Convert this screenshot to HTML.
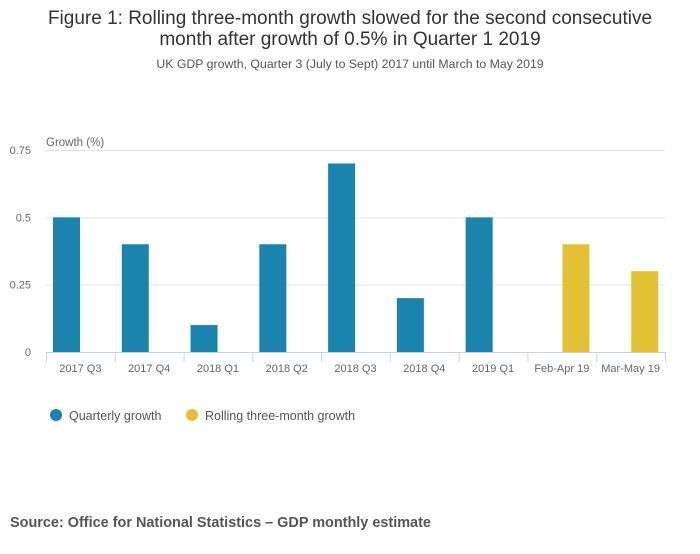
<!DOCTYPE html>
<html><head><meta charset="utf-8">
<style>
body{margin:0;background:#fff;width:700px;height:549px;overflow:hidden;font-family:"Liberation Sans",sans-serif;}
svg text{font-family:"Liberation Sans",sans-serif;}
</style></head>
<body>
<svg id="chart" width="700" height="549" viewBox="0 0 700 549">
<text x="350" y="24" text-anchor="middle" font-size="19" fill="#333">Figure 1: Rolling three-month growth slowed for the second consecutive</text>
<text x="350" y="45" text-anchor="middle" font-size="19" fill="#333">month after growth of 0.5% in Quarter 1 2019</text>
<text x="350" y="68" text-anchor="middle" font-size="12.3" fill="#555">UK GDP growth, Quarter 3 (July to Sept) 2017 until March to May 2019</text>
<text x="46" y="146" font-size="11.5" fill="#666">Growth (%)</text>
<g id="grid"></g><g id="bars"></g><g id="xaxis"></g>
<g>
<circle cx="56" cy="415" r="6" fill="#1a84ae"/>
<text x="69" y="420" font-size="12.5" fill="#555">Quarterly growth</text>
<circle cx="192" cy="415" r="6" fill="#e2c233"/>
<text x="205" y="420" font-size="12.5" fill="#555">Rolling three-month growth</text>
</g>
<text x="10" y="527" font-size="14.45" font-weight="bold" fill="#555">Source: Office for National Statistics – GDP monthly estimate</text>
</svg>
<script>
const categories=["2017 Q3","2017 Q4","2018 Q1","2018 Q2","2018 Q3","2018 Q4","2019 Q1","Feb-Apr 19","Mar-May 19"];
const quarterly=[0.5,0.4,0.1,0.4,0.7,0.2,0.5,null,null];
const rolling=[null,null,null,null,null,null,null,0.4,0.3];
const yTicks=[0,0.25,0.5,0.75];
const yTickLabels=["0","0.25","0.5","0.75"];
const NS="http://www.w3.org/2000/svg";
const x0=46,x1=665,yZero=352,yTop=150,yMax=0.75;
const band=(x1-x0)/categories.length;
function y(v){return yZero-(v/yMax)*(yZero-yTop);}
function bx(i){return x0+i*band;}
function mk(tag,attrs,parent){const e=document.createElementNS(NS,tag);for(const k in attrs)e.setAttribute(k,attrs[k]);parent.appendChild(e);return e;}
const grid=document.getElementById('grid'),bars=document.getElementById('bars'),xa=document.getElementById('xaxis');
yTicks.forEach((t,i)=>{
  if(t>0){const l=mk('line',{x1:x0,x2:x1,y1:y(t)+0.5,y2:y(t)+0.5,stroke:'#e3e3e3'},grid);
  
  }
  const tx=mk('text',{x:31,y:y(t)+4,'text-anchor':'end','font-size':'11',fill:'#666'},grid);
  tx.textContent=yTickLabels[i];
  
  
});
const w=27;
categories.forEach((c,i)=>{
  if(quarterly[i]!=null){const r=mk('rect',{x:bx(i)+7,y:y(quarterly[i]),width:w,height:yZero-y(quarterly[i]),fill:'#1a84ae'},bars);
    
    }
  if(rolling[i]!=null){const r=mk('rect',{x:bx(i)+35,y:y(rolling[i]),width:w,height:yZero-y(rolling[i]),fill:'#e2c233'},bars);
    
    }
  const t=mk('text',{x:bx(i)+band/2,y:372,'text-anchor':'middle','font-size':'11',fill:'#666'},xa);
  t.textContent=c;
  
  
});
const ax=mk('line',{x1:x0,x2:x1,y1:yZero+0.5,y2:yZero+0.5,stroke:'#c8d3e0'},xa);


for(let i=0;i<=categories.length;i++){
  const tk=mk('line',{x1:bx(i)+0.5,x2:bx(i)+0.5,y1:yZero,y2:yZero+10,stroke:'#c8d3e0'},xa);
  
  
}
</script>
</body></html>
